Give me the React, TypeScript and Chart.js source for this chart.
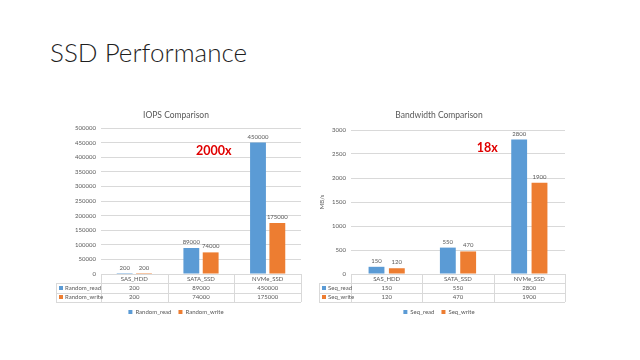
import React, { useEffect, useRef } from "react";
import { Chart, registerables } from "chart.js";

Chart.register(...registerables);

// ---- data ----
const categories = ["SAS_HDD", "SATA_SSD", "NVMe_SSD"];
const randomRead = [200, 89000, 450000];
const randomWrite = [200, 74000, 175000];
const seqRead = [150, 550, 2800];
const seqWrite = [120, 470, 1900];
const iopsAxis = [0, 500000, 50000]; // min, max, step
const bwAxis = [0, 3000, 500];
const iopsNote = { text: "2000x", category: 1.19, value: 420000 };
const bwNote = { text: "18x", category: 1.41, value: 2620 };

const BLUE = "#5B9BD5";
const ORANGE = "#ED7D31";
const GRID = "#D9D9D9";
const TEXT = "#595959";
const FONT = "Lato, 'Open Sans', sans-serif";

const tablePlugin = {
  id: "dataTable",
  afterDraw(chart: any, _args: any, opts: any) {
    const { ctx, chartArea } = chart;
    const xs = chart.scales.x;
    const labels = chart.data.labels as string[];
    const n = labels.length;
    const rowH = opts.rowHeight;
    const top = chartArea.bottom;
    const left = chartArea.left;
    const right = chartArea.right;
    const labelLeft = left - opts.labelWidth;
    const b: number[] = [];
    for (let i = 0; i <= n; i++) {
      if (i === 0) b.push(left);
      else if (i === n) b.push(right);
      else b.push((xs.getPixelForValue(i - 1) + xs.getPixelForValue(i)) / 2);
    }
    const nRows = chart.data.datasets.length + 1;
    ctx.save();
    ctx.strokeStyle = GRID;
    ctx.lineWidth = 1;
    const hl = (y: number, x0: number, x1: number) => {
      const yy = Math.round(y) + 0.5;
      ctx.beginPath();
      ctx.moveTo(x0, yy);
      ctx.lineTo(x1, yy);
      ctx.stroke();
    };
    const vl = (x: number, y0: number, y1: number) => {
      const xx = Math.round(x) + 0.5;
      ctx.beginPath();
      ctx.moveTo(xx, y0);
      ctx.lineTo(xx, y1);
      ctx.stroke();
    };
    hl(top, left, right);
    for (let r = 1; r <= nRows; r++) hl(top + r * rowH, labelLeft, right);
    b.forEach((x) => vl(x, top, top + nRows * rowH));
    vl(labelLeft, top + rowH, top + nRows * rowH);

    ctx.font = `6px ${FONT}`;
    ctx.textBaseline = "middle";
    chart.data.datasets.forEach((ds: any, d: number) => {
      const cy = top + rowH * (d + 1.5);
      ctx.fillStyle = ds.backgroundColor;
      ctx.fillRect(labelLeft + 3, Math.round(cy - 2), 4, 4);
      ctx.fillStyle = TEXT;
      ctx.textAlign = "left";
      ctx.fillText(ds.label, labelLeft + 9, cy);
      ctx.textAlign = "center";
      ds.data.forEach((v: number, i: number) => {
        ctx.fillText(String(v), (b[i] + b[i + 1]) / 2, cy);
      });
    });

    // value labels above bars
    ctx.textBaseline = "bottom";
    ctx.textAlign = "center";
    ctx.fillStyle = TEXT;
    chart.data.datasets.forEach((ds: any, d: number) => {
      const meta = chart.getDatasetMeta(d);
      meta.data.forEach((el: any, i: number) => {
        ctx.fillText(String(ds.data[i]), el.x, el.y - 3);
      });
    });

    // annotation
    const note = opts.note;
    if (note) {
      ctx.font = `bold 12.5px ${FONT}`;
      ctx.fillStyle = "#E00000";
      ctx.textBaseline = "middle";
      ctx.textAlign = "center";
      ctx.fillText(
        note.text,
        xs.getPixelForValue(note.category),
        chart.scales.y.getPixelForValue(note.value)
      );
    }
    ctx.restore();
  },
};

function makeConfig(p: {
  title: string;
  labels: string[];
  names: string[];
  a: number[];
  b: number[];
  axis: number[];
  yTitle?: string;
  padding: any;
  titlePad: any;
  yWidth: number;
  labelWidth: number;
  note: any;
  catPct: number;
  barPct: number;
}): any {
  return {
    type: "bar",
    data: {
      labels: p.labels,
      datasets: [
        { label: p.names[0], data: p.a, backgroundColor: BLUE, borderWidth: 0, barPercentage: p.barPct, categoryPercentage: p.catPct },
        { label: p.names[1], data: p.b, backgroundColor: ORANGE, borderWidth: 0, barPercentage: p.barPct, categoryPercentage: p.catPct },
      ],
    },
    options: {
      responsive: false,
      animation: false,
      layout: { padding: p.padding },
      plugins: {
        title: {
          display: true,
          text: p.title,
          color: TEXT,
          font: { family: FONT, size: 8.5, weight: "normal", lineHeight: 1.2 },
          padding: p.titlePad,
        },
        legend: {
          position: "bottom",
          labels: {
            boxWidth: 4,
            boxHeight: 4,
            padding: 7,
            color: TEXT,
            font: { family: FONT, size: 6 },
          },
        },
        tooltip: { enabled: false },
        dataTable: { rowHeight: 28 / 3, labelWidth: p.labelWidth, note: p.note },
      },
      scales: {
        x: {
          grid: { display: false, drawTicks: false },
          border: { display: false },
          ticks: { color: TEXT, font: { family: FONT, size: 6 }, padding: 1.5, maxRotation: 0, autoSkip: false },
          afterFit: (s: any) => {
            s.height = 28;
          },
        },
        y: {
          min: p.axis[0],
          max: p.axis[1],
          grid: { color: GRID, drawTicks: false },
          border: { display: false },
          ticks: {
            stepSize: p.axis[2],
            color: TEXT,
            font: { family: FONT, size: 6 },
            padding: 5,
            callback: (v: any) => String(v),
          },
          title: p.yTitle
            ? { display: true, text: p.yTitle, color: TEXT, font: { family: FONT, size: 6 }, padding: { top: 5, bottom: 0 } }
            : { display: false },
          afterFit: (s: any) => {
            s.width = p.yWidth;
          },
        },
      },
    },
    plugins: [tablePlugin],
  };
}

function ChartCanvas({ config, style, width, height }: any) {
  const ref = useRef<HTMLCanvasElement>(null);
  useEffect(() => {
    const c = new Chart(ref.current as HTMLCanvasElement, config);
    return () => c.destroy();
  }, []);
  return <canvas ref={ref} width={width} height={height} style={{ position: "absolute", ...style }} />;
}

export default function App() {
  const iops = makeConfig({
    title: "IOPS Comparison",
    labels: categories,
    names: ["Random_read", "Random_write"],
    a: randomRead,
    b: randomWrite,
    axis: iopsAxis,
    padding: { left: 11, right: 19, top: 0, bottom: 5 },
    titlePad: { top: 10, bottom: 7.8 },
    yWidth: 50,
    labelWidth: 45,
    note: iopsNote,
    catPct: 0.58,
    barPct: 0.82,
  });
  const bw = makeConfig({
    title: "Bandwidth Comparison",
    labels: categories,
    names: ["Seq_read", "Seq_write"],
    a: seqRead,
    b: seqWrite,
    axis: bwAxis,
    yTitle: "MB/s",
    padding: { left: 3, right: 45, top: 0, bottom: 5 },
    titlePad: { top: 10, bottom: 9.8 },
    yWidth: 38,
    labelWidth: 32,
    note: bwNote,
    catPct: 0.57,
    barPct: 0.78,
  });
  return (
    <div style={{ position: "absolute", left: 0, top: 0, width: 640, height: 360, background: "#fff", overflow: "hidden" }}>
      <div
        style={{
          position: "absolute",
          left: 50,
          top: 37,
          fontFamily: "Lato, 'Open Sans', sans-serif",
          fontWeight: 300,
          fontSize: 26,
          lineHeight: "30px",
          color: "#1f1f1f",
          whiteSpace: "nowrap",
        }}
      >
        SSD Performance
      </div>
      <ChartCanvas config={iops} width={280} height={230} style={{ left: 40, top: 100 }} />
      <ChartCanvas config={bw} width={300} height={230} style={{ left: 310, top: 100 }} />
    </div>
  );
}
